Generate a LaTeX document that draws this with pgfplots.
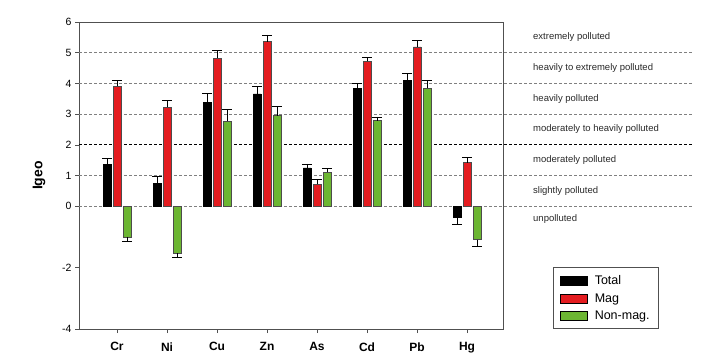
\documentclass[border=0pt]{standalone}
\usepackage{pgfplots}
\pgfplotsset{compat=1.18}
\usepackage{fontspec}
\setmainfont{Liberation Sans}
\definecolor{magred}{RGB}{228,28,32}
\definecolor{nongreen}{RGB}{108,182,50}
\definecolor{axgray}{RGB}{80,80,80}
\definecolor{txtgray}{RGB}{40,40,40}
\begin{document}
\begin{tikzpicture}
\path[use as bounding box] (0pt,0pt) rectangle (706pt,360pt);
\begin{axis}[
 at={(79pt,31pt)}, anchor=south west, scale only axis, width=424pt, height=307pt,
 xmin=-0.76, xmax=7.72, ymin=-4, ymax=6,
 clip=false,
 axis line style={axgray, line width=0.8pt},
 xtick={0,...,7}, xticklabels={Cr,Ni,Cu,Zn,As,Cd,Pb,Hg},
 ytick={-4,-2,0,1,2,3,4,5,6},
 tick align=outside, tick pos=left, major tick length=4pt,
 tick style={axgray, line width=0.6pt},
 xticklabel style={font=\bfseries\fontsize{12}{14}\selectfont, yshift=-6pt},
 yticklabel style={font=\fontsize{10.5}{12}\selectfont},
 /pgf/number format/assume math mode=true,
 ylabel={Igeo},
 every axis y label/.style={at={(axis description cs:-0.0943,0.5)}, rotate=90, anchor=center, font=\bfseries\fontsize{14}{16}\selectfont},
 legend style={at={(axis description cs:1.368,0)}, anchor=south east, draw=axgray, line width=0.8pt, font=\fontsize{12.5}{14}\selectfont, inner xsep=7pt, inner ysep=6pt, row sep=3pt},
 legend cell align=left,
 legend image code/.code={\draw[#1, draw=black, line width=0.5pt] (0pt,-4.5pt) rectangle (27pt,4.5pt); \path (32pt,0pt);},
]
% threshold lines
\addplot[forget plot, gray, dash pattern=on 3pt off 2pt, line width=0.6pt] coordinates {(-0.76,0) (11.5,0)};
\addplot[forget plot, gray, dash pattern=on 3pt off 2pt, line width=0.6pt] coordinates {(-0.76,1) (11.5,1)};
\addplot[forget plot, black, dash pattern=on 3pt off 2pt, line width=0.8pt] coordinates {(-0.76,2) (11.5,2)};
\addplot[forget plot, gray, dash pattern=on 3pt off 2pt, line width=0.6pt] coordinates {(-0.76,3) (11.5,3)};
\addplot[forget plot, gray, dash pattern=on 3pt off 2pt, line width=0.6pt] coordinates {(-0.76,4) (11.5,4)};
\addplot[forget plot, gray, dash pattern=on 3pt off 2pt, line width=0.6pt] coordinates {(-0.76,5) (11.5,5)};

\addplot[ybar, bar width=7.5pt, bar shift=0pt, fill=black, draw=black, line width=0.5pt,
  error bars/.cd, y dir=plus, y explicit, error bar style={black,line width=0.6pt},
  error mark options={rotate=90, black, mark size=4.8pt, line width=0.6pt}]
  coordinates {(-0.2,1.36) +- (0,0.21) (0.8,0.74) +- (0,0.25) (1.8,3.37) +- (0,0.31) (2.8,3.66) +- (0,0.24)
               (3.8,1.25) +- (0,0.13) (4.8,3.85) +- (0,0.15) (5.8,4.10) +- (0,0.23) (6.8,-0.37) +- (0,-0.21)};
\addlegendentry{Total}
\addplot[ybar, bar width=7.5pt, bar shift=0pt, fill=magred, draw=black!70, line width=0.5pt,
  error bars/.cd, y dir=plus, y explicit, error bar style={black,line width=0.6pt},
  error mark options={rotate=90, black, mark size=4.8pt, line width=0.6pt}]
  coordinates {(0,3.90) +- (0,0.19) (1,3.23) +- (0,0.22) (2,4.82) +- (0,0.26) (3,5.36) +- (0,0.22)
               (4,0.71) +- (0,0.17) (5,4.72) +- (0,0.12) (6,5.19) +- (0,0.21) (7,1.42) +- (0,0.17)};
\addlegendentry{Mag}
\addplot[ybar, bar width=7.5pt, bar shift=0pt, fill=nongreen, draw=black!70, line width=0.5pt,
  error bars/.cd, y dir=plus, y explicit, error bar style={black,line width=0.6pt},
  error mark options={rotate=90, black, mark size=4.8pt, line width=0.6pt}]
  coordinates {(0.2,-1.00) +- (0,-0.15) (1.2,-1.54) +- (0,-0.14) (2.2,2.77) +- (0,0.38) (3.2,2.95) +- (0,0.31)
               (4.2,1.11) +- (0,0.11) (5.2,2.79) +- (0,0.12) (6.2,3.85) +- (0,0.24) (7.2,-1.09) +- (0,-0.22)};
\addlegendentry{Non-mag.}

\begin{scope}[every node/.style={anchor=west, text=txtgray, font=\fontsize{9.5}{11}\selectfont, inner sep=0pt}]
\node at (axis cs:8.32,5.5) {extremely polluted};
\node at (axis cs:8.32,4.5) {heavily to extremely polluted};
\node at (axis cs:8.32,3.5) {heavily polluted};
\node at (axis cs:8.32,2.5) {moderately to heavily polluted};
\node at (axis cs:8.32,1.5) {moderately polluted};
\node at (axis cs:8.32,0.5) {slightly polluted};
\node at (axis cs:8.32,-0.42) {unpolluted};
\end{scope}
\end{axis}
\end{tikzpicture}
\end{document}
